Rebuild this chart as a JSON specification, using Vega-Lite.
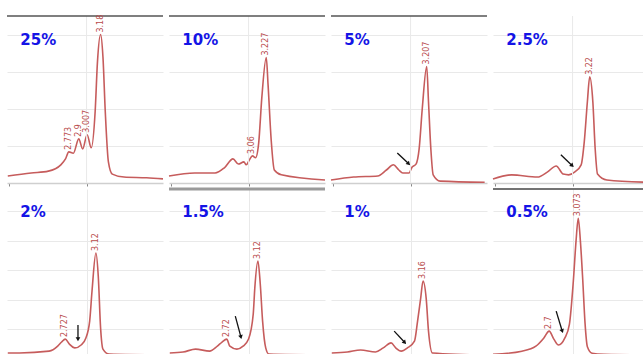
{
"$schema":"https://vega.github.io/schema/vega-lite/v6.json",
"padding":{"left":4,"top":14,"right":0,"bottom":0},
"spacing":0,
"config":{"view":{"stroke":null},"axis":{"gridColor":"#e9e9e9","gridWidth":1}},
"data":{"values":[
{"panel":"25%","kind":"curve","t":1.99,"v":0.19},{"panel":"25%","kind":"curve","t":2.29,"v":0.27},{"panel":"25%","kind":"curve","t":2.51,"v":0.32},{"panel":"25%","kind":"curve","t":2.67,"v":0.49},{"panel":"25%","kind":"curve","t":2.73,"v":0.65},{"panel":"25%","kind":"curve","t":2.773,"v":0.84},{"panel":"25%","kind":"curve","t":2.83,"v":0.8},{"panel":"25%","kind":"curve","t":2.9,"v":1.19},{"panel":"25%","kind":"curve","t":2.95,"v":0.92},{"panel":"25%","kind":"curve","t":3.007,"v":1.3},{"panel":"25%","kind":"curve","t":3.06,"v":0.95},{"panel":"25%","kind":"curve","t":3.11,"v":1.92},{"panel":"25%","kind":"curve","t":3.14,"v":3.27},{"panel":"25%","kind":"curve","t":3.18,"v":4.0},{"panel":"25%","kind":"curve","t":3.21,"v":3.4},{"panel":"25%","kind":"curve","t":3.24,"v":1.92},{"panel":"25%","kind":"curve","t":3.28,"v":0.57},{"panel":"25%","kind":"curve","t":3.33,"v":0.24},{"panel":"25%","kind":"curve","t":3.48,"v":0.16},{"panel":"25%","kind":"curve","t":3.77,"v":0.14},{"panel":"25%","kind":"curve","t":3.98,"v":0.11},
{"panel":"10%","kind":"curve","t":1.98,"v":0.19},{"panel":"10%","kind":"curve","t":2.31,"v":0.27},{"panel":"10%","kind":"curve","t":2.57,"v":0.27},{"panel":"10%","kind":"curve","t":2.69,"v":0.41},{"panel":"10%","kind":"curve","t":2.8,"v":0.65},{"panel":"10%","kind":"curve","t":2.87,"v":0.51},{"panel":"10%","kind":"curve","t":2.94,"v":0.57},{"panel":"10%","kind":"curve","t":2.97,"v":0.49},{"panel":"10%","kind":"curve","t":3.01,"v":0.62},{"panel":"10%","kind":"curve","t":3.05,"v":0.73},{"panel":"10%","kind":"curve","t":3.09,"v":0.68},{"panel":"10%","kind":"curve","t":3.13,"v":1.08},{"panel":"10%","kind":"curve","t":3.17,"v":2.3},{"panel":"10%","kind":"curve","t":3.227,"v":3.38},{"panel":"10%","kind":"curve","t":3.25,"v":2.65},{"panel":"10%","kind":"curve","t":3.29,"v":1.16},{"panel":"10%","kind":"curve","t":3.33,"v":0.35},{"panel":"10%","kind":"curve","t":3.42,"v":0.22},{"panel":"10%","kind":"curve","t":3.98,"v":0.08},
{"panel":"5%","kind":"curve","t":1.98,"v":0.08},{"panel":"5%","kind":"curve","t":2.27,"v":0.16},{"panel":"5%","kind":"curve","t":2.58,"v":0.19},{"panel":"5%","kind":"curve","t":2.69,"v":0.35},{"panel":"5%","kind":"curve","t":2.78,"v":0.49},{"panel":"5%","kind":"curve","t":2.85,"v":0.35},{"panel":"5%","kind":"curve","t":2.9,"v":0.27},{"panel":"5%","kind":"curve","t":2.98,"v":0.27},{"panel":"5%","kind":"curve","t":3.02,"v":0.43},{"panel":"5%","kind":"curve","t":3.07,"v":0.51},{"panel":"5%","kind":"curve","t":3.11,"v":0.92},{"panel":"5%","kind":"curve","t":3.15,"v":2.0},{"panel":"5%","kind":"curve","t":3.207,"v":3.14},{"panel":"5%","kind":"curve","t":3.23,"v":2.19},{"panel":"5%","kind":"curve","t":3.26,"v":0.92},{"panel":"5%","kind":"curve","t":3.29,"v":0.22},{"panel":"5%","kind":"curve","t":3.38,"v":0.05},{"panel":"5%","kind":"curve","t":3.95,"v":0.02},
{"panel":"2.5%","kind":"curve","t":1.98,"v":0.11},{"panel":"2.5%","kind":"curve","t":2.22,"v":0.22},{"panel":"2.5%","kind":"curve","t":2.55,"v":0.16},{"panel":"2.5%","kind":"curve","t":2.68,"v":0.3},{"panel":"2.5%","kind":"curve","t":2.79,"v":0.46},{"panel":"2.5%","kind":"curve","t":2.88,"v":0.24},{"panel":"2.5%","kind":"curve","t":2.95,"v":0.22},{"panel":"2.5%","kind":"curve","t":3.03,"v":0.3},{"panel":"2.5%","kind":"curve","t":3.11,"v":0.49},{"panel":"2.5%","kind":"curve","t":3.15,"v":1.11},{"panel":"2.5%","kind":"curve","t":3.19,"v":2.19},{"panel":"2.5%","kind":"curve","t":3.22,"v":2.86},{"panel":"2.5%","kind":"curve","t":3.26,"v":2.19},{"panel":"2.5%","kind":"curve","t":3.29,"v":0.92},{"panel":"2.5%","kind":"curve","t":3.32,"v":0.24},{"panel":"2.5%","kind":"curve","t":3.44,"v":0.08},{"panel":"2.5%","kind":"curve","t":3.97,"v":0.02},
{"panel":"2%","kind":"curve","t":1.99,"v":0.19},{"panel":"2%","kind":"curve","t":2.14,"v":0.19},{"panel":"2%","kind":"curve","t":2.52,"v":0.25},{"panel":"2%","kind":"curve","t":2.63,"v":0.42},{"panel":"2%","kind":"curve","t":2.68,"v":0.56},{"panel":"2%","kind":"curve","t":2.727,"v":0.66},{"panel":"2%","kind":"curve","t":2.78,"v":0.49},{"panel":"2%","kind":"curve","t":2.85,"v":0.36},{"panel":"2%","kind":"curve","t":2.93,"v":0.46},{"panel":"2%","kind":"curve","t":2.99,"v":0.69},{"panel":"2%","kind":"curve","t":3.04,"v":1.27},{"panel":"2%","kind":"curve","t":3.07,"v":2.29},{"panel":"2%","kind":"curve","t":3.12,"v":3.58},{"panel":"2%","kind":"curve","t":3.15,"v":2.8},{"panel":"2%","kind":"curve","t":3.18,"v":1.03},{"panel":"2%","kind":"curve","t":3.21,"v":0.32},{"panel":"2%","kind":"curve","t":3.29,"v":0.15},{"panel":"2%","kind":"curve","t":3.98,"v":0.12},
{"panel":"1.5%","kind":"curve","t":1.99,"v":0.19},{"panel":"1.5%","kind":"curve","t":2.16,"v":0.22},{"panel":"1.5%","kind":"curve","t":2.32,"v":0.32},{"panel":"1.5%","kind":"curve","t":2.5,"v":0.25},{"panel":"1.5%","kind":"curve","t":2.6,"v":0.42},{"panel":"1.5%","kind":"curve","t":2.66,"v":0.56},{"panel":"1.5%","kind":"curve","t":2.72,"v":0.66},{"panel":"1.5%","kind":"curve","t":2.76,"v":0.42},{"panel":"1.5%","kind":"curve","t":2.85,"v":0.32},{"panel":"1.5%","kind":"curve","t":2.93,"v":0.42},{"panel":"1.5%","kind":"curve","t":3.0,"v":0.66},{"panel":"1.5%","kind":"curve","t":3.06,"v":1.51},{"panel":"1.5%","kind":"curve","t":3.08,"v":2.39},{"panel":"1.5%","kind":"curve","t":3.12,"v":3.31},{"panel":"1.5%","kind":"curve","t":3.15,"v":2.53},{"panel":"1.5%","kind":"curve","t":3.18,"v":1.27},{"panel":"1.5%","kind":"curve","t":3.22,"v":0.36},{"panel":"1.5%","kind":"curve","t":3.26,"v":0.15},{"panel":"1.5%","kind":"curve","t":3.97,"v":0.12},
{"panel":"1%","kind":"curve","t":1.99,"v":0.19},{"panel":"1%","kind":"curve","t":2.19,"v":0.22},{"panel":"1%","kind":"curve","t":2.36,"v":0.29},{"panel":"1%","kind":"curve","t":2.55,"v":0.22},{"panel":"1%","kind":"curve","t":2.65,"v":0.36},{"panel":"1%","kind":"curve","t":2.75,"v":0.53},{"panel":"1%","kind":"curve","t":2.81,"v":0.36},{"panel":"1%","kind":"curve","t":2.88,"v":0.25},{"panel":"1%","kind":"curve","t":2.96,"v":0.36},{"panel":"1%","kind":"curve","t":3.05,"v":0.59},{"panel":"1%","kind":"curve","t":3.09,"v":1.27},{"panel":"1%","kind":"curve","t":3.13,"v":2.05},{"panel":"1%","kind":"curve","t":3.16,"v":2.63},{"panel":"1%","kind":"curve","t":3.2,"v":2.05},{"panel":"1%","kind":"curve","t":3.23,"v":0.93},{"panel":"1%","kind":"curve","t":3.28,"v":0.19},{"panel":"1%","kind":"curve","t":3.98,"v":0.12},
{"panel":"0.5%","kind":"curve","t":1.98,"v":0.14},{"panel":"0.5%","kind":"curve","t":2.35,"v":0.25},{"panel":"0.5%","kind":"curve","t":2.53,"v":0.42},{"panel":"0.5%","kind":"curve","t":2.63,"v":0.69},{"panel":"0.5%","kind":"curve","t":2.7,"v":0.93},{"panel":"0.5%","kind":"curve","t":2.76,"v":0.66},{"panel":"0.5%","kind":"curve","t":2.82,"v":0.46},{"panel":"0.5%","kind":"curve","t":2.9,"v":0.69},{"panel":"0.5%","kind":"curve","t":2.96,"v":1.17},{"panel":"0.5%","kind":"curve","t":3.01,"v":2.63},{"panel":"0.5%","kind":"curve","t":3.045,"v":4.0},{"panel":"0.5%","kind":"curve","t":3.073,"v":4.76},{"panel":"0.5%","kind":"curve","t":3.1,"v":4.0},{"panel":"0.5%","kind":"curve","t":3.13,"v":2.7},{"panel":"0.5%","kind":"curve","t":3.16,"v":1.2},{"panel":"0.5%","kind":"curve","t":3.19,"v":0.4},{"panel":"0.5%","kind":"curve","t":3.25,"v":0.18},{"panel":"0.5%","kind":"curve","t":3.4,"v":0.14},{"panel":"0.5%","kind":"curve","t":3.98,"v":0.12},
{"panel":"25%","kind":"peak","t":2.773,"v":0.84,"label":"2.773"},{"panel":"25%","kind":"peak","t":2.9,"v":1.19,"label":"2.9"},{"panel":"25%","kind":"peak","t":3.007,"v":1.3,"label":"3.007"},{"panel":"25%","kind":"peak","t":3.18,"v":4.0,"label":"3.18"},
{"panel":"10%","kind":"peak","t":3.05,"v":0.73,"label":"3.06"},{"panel":"10%","kind":"peak","t":3.227,"v":3.38,"label":"3.227"},
{"panel":"5%","kind":"peak","t":3.207,"v":3.14,"label":"3.207"},
{"panel":"2.5%","kind":"peak","t":3.22,"v":2.86,"label":"3.22"},
{"panel":"2%","kind":"peak","t":2.727,"v":0.66,"label":"2.727"},{"panel":"2%","kind":"peak","t":3.12,"v":3.58,"label":"3.12"},
{"panel":"1.5%","kind":"peak","t":2.72,"v":0.66,"label":"2.72"},{"panel":"1.5%","kind":"peak","t":3.12,"v":3.31,"label":"3.12"},
{"panel":"1%","kind":"peak","t":3.16,"v":2.63,"label":"3.16"},
{"panel":"0.5%","kind":"peak","t":2.7,"v":0.93,"label":"2.7"},{"panel":"0.5%","kind":"peak","t":3.073,"v":4.76,"label":"3.073"},
{"panel":"5%","kind":"arrow","t":2.83,"v":0.81,"t2":2.97,"v2":0.53,"ang":135},
{"panel":"2.5%","kind":"arrow","t":2.85,"v":0.76,"t2":2.99,"v2":0.48,"ang":135},
{"panel":"2%","kind":"arrow","t":2.89,"v":1.14,"t2":2.89,"v2":0.68,"ang":180},
{"panel":"1.5%","kind":"arrow","t":2.83,"v":1.44,"t2":2.9,"v2":0.75,"ang":167},
{"panel":"1%","kind":"arrow","t":2.79,"v":0.93,"t2":2.92,"v2":0.56,"ang":137},
{"panel":"0.5%","kind":"arrow","t":2.79,"v":1.61,"t2":2.865,"v2":0.95,"ang":161},
{"panel":"25%","kind":"name"},{"panel":"10%","kind":"name"},{"panel":"5%","kind":"name"},{"panel":"2.5%","kind":"name"},
{"panel":"2%","kind":"name"},{"panel":"1.5%","kind":"name"},{"panel":"1%","kind":"name"},{"panel":"0.5%","kind":"name"},
{"panel":"25%","kind":"border","v":4.5},{"panel":"10%","kind":"border","v":4.5},{"panel":"5%","kind":"border","v":4.5},
{"panel":"0.5%","kind":"border","v":5.75},{"panel":"1.5%","kind":"band","v":5.75}
]},
"vconcat":[
{
"transform":[{"filter":{"field":"panel","oneOf":["25%","10%","5%","2.5%"]}}],
"facet":{"column":{"field":"panel","sort":["25%","10%","5%","2.5%"],"header":{"labels":false,"title":null,"labelPadding":0,"titlePadding":0},"title":null}},
"spacing":6,
"bounds":"flush",
"spec":{
"width":156,"height":167,
"layer":[
{"transform":[{"filter":"datum.kind=='curve'"}],
"mark":{"type":"line","interpolate":"monotone","color":"#c65c5c","strokeWidth":1.6},
"encoding":{
"x":{"field":"t","type":"quantitative","scale":{"domain":[1.98,3.98],"nice":false,"zero":false},"axis":{"values":[2,3],"labels":false,"title":null,"grid":false,"domainColor":"#cfcfcf","domainWidth":1.5,"tickColor":"#888","tickSize":3}},
"y":{"field":"v","type":"quantitative","scale":{"domain":[0,4.5],"nice":false,"zero":false},"axis":{"values":[1,2,3,4],"labels":false,"ticks":false,"domain":false,"title":null,"grid":true}}
}},
{"transform":[{"filter":"datum.kind=='name'"}],"mark":{"type":"rule","color":"#e9e9e9","strokeWidth":1},"encoding":{"x":{"datum":3}}},
{"transform":[{"filter":"datum.kind=='border'"}],"mark":{"type":"rule","color":"#555555","strokeWidth":1.5},"encoding":{"y":{"field":"v","type":"quantitative"}}},
{"transform":[{"filter":"datum.kind=='arrow'"}],"mark":{"type":"rule","color":"#111111","strokeWidth":1.3},"encoding":{"x":{"field":"t","type":"quantitative"},"y":{"field":"v","type":"quantitative"},"x2":{"field":"t2"},"y2":{"field":"v2"}}},
{"transform":[{"filter":"datum.kind=='arrow'"}],"mark":{"type":"point","shape":"triangle","filled":true,"color":"#111111","size":22,"opacity":1},"encoding":{"x":{"field":"t2","type":"quantitative"},"y":{"field":"v2","type":"quantitative"},"angle":{"field":"ang","type":"quantitative","scale":null}}},
{"transform":[{"filter":"datum.kind=='peak'"}],"mark":{"type":"text","angle":270,"align":"left","baseline":"middle","dx":2,"fontSize":8,"font":"DejaVu Sans","color":"#b84a4a"},"encoding":{"x":{"field":"t","type":"quantitative"},"y":{"field":"v","type":"quantitative"},"text":{"field":"label"}}},
{"transform":[{"filter":"datum.kind=='name'"}],"mark":{"type":"text","align":"left","baseline":"alphabetic","fontSize":15,"fontWeight":"bold","font":"DejaVu Sans","color":"#1414e6"},"encoding":{"x":{"datum":2.15},"y":{"datum":3.73},"text":{"field":"panel"}}}
]}
},
{
"transform":[{"filter":{"field":"panel","oneOf":["2%","1.5%","1%","0.5%"]}}],
"facet":{"column":{"field":"panel","sort":["2%","1.5%","1%","0.5%"],"header":{"labels":false,"title":null,"labelPadding":0,"titlePadding":0},"title":null}},
"spacing":6,
"bounds":"flush",
"spec":{
"width":156,"height":166,
"layer":[
{"transform":[{"filter":"datum.kind=='curve'"}],
"mark":{"type":"line","interpolate":"monotone","color":"#c65c5c","strokeWidth":1.6},
"encoding":{
"x":{"field":"t","type":"quantitative","scale":{"domain":[1.98,3.98],"nice":false,"zero":false},"axis":{"values":[3],"labels":false,"title":null,"grid":true,"domain":false,"ticks":false}},
"y":{"field":"v","type":"quantitative","scale":{"domain":[0.12,5.75],"nice":false,"zero":false},"axis":{"values":[1,2,3,4,5],"labels":false,"ticks":false,"domain":false,"title":null,"grid":true}}
}},
{"transform":[{"filter":"datum.kind=='border'"}],"mark":{"type":"rule","color":"#444444","strokeWidth":1.5},"encoding":{"y":{"field":"v","type":"quantitative"}}},
{"transform":[{"filter":"datum.kind=='band'"}],"mark":{"type":"rule","color":"#9a9a9a","strokeWidth":3},"encoding":{"y":{"field":"v","type":"quantitative"}}},
{"transform":[{"filter":"datum.kind=='arrow'"}],"mark":{"type":"rule","color":"#111111","strokeWidth":1.3},"encoding":{"x":{"field":"t","type":"quantitative"},"y":{"field":"v","type":"quantitative"},"x2":{"field":"t2"},"y2":{"field":"v2"}}},
{"transform":[{"filter":"datum.kind=='arrow'"}],"mark":{"type":"point","shape":"triangle","filled":true,"color":"#111111","size":22,"opacity":1},"encoding":{"x":{"field":"t2","type":"quantitative"},"y":{"field":"v2","type":"quantitative"},"angle":{"field":"ang","type":"quantitative","scale":null}}},
{"transform":[{"filter":"datum.kind=='peak'"}],"mark":{"type":"text","angle":270,"align":"left","baseline":"middle","dx":2,"fontSize":8,"font":"DejaVu Sans","color":"#b84a4a"},"encoding":{"x":{"field":"t","type":"quantitative"},"y":{"field":"v","type":"quantitative"},"text":{"field":"label"}}},
{"transform":[{"filter":"datum.kind=='name'"}],"mark":{"type":"text","align":"left","baseline":"alphabetic","fontSize":15,"fontWeight":"bold","font":"DejaVu Sans","color":"#1414e6"},"encoding":{"x":{"datum":2.15},"y":{"datum":4.8},"text":{"field":"panel"}}}
]}
}
]
}
